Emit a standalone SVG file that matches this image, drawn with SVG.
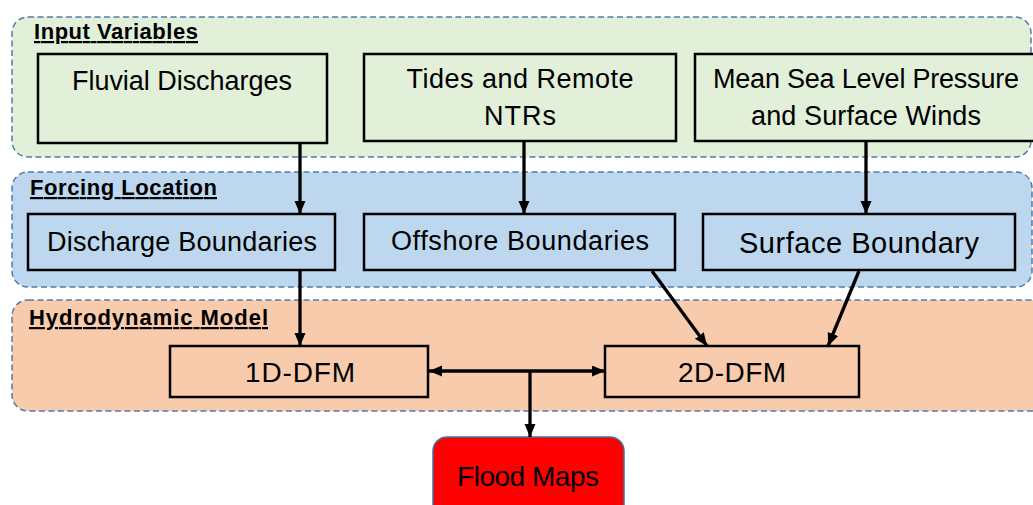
<svg xmlns="http://www.w3.org/2000/svg" width="1033" height="505" viewBox="0 0 1033 505">
<defs>
<marker id="ah" markerUnits="userSpaceOnUse" markerWidth="14" markerHeight="12" refX="13" refY="5.5" orient="auto-start-reverse" viewBox="0 0 14 12">
<path d="M0,0 L13,5.5 L0,11 z" fill="#000"/>
</marker>
<style>
.panel{stroke:#4F7CAC;stroke-width:1.5;stroke-dasharray:6 3.5}
.box{stroke:#000;stroke-width:2.5}
.t{font-family:"Liberation Sans",Arial,sans-serif;font-size:27px;fill:#000;text-anchor:middle}
.h{font-family:"Liberation Sans",Arial,sans-serif;font-size:22px;font-weight:bold;fill:#000;text-decoration:underline}
.c{stroke:#000;stroke-width:3.3;fill:none;marker-end:url(#ah)}
</style>
</defs>
<rect width="1033" height="505" fill="#fff"/>
<g id="panel-input">
<rect class="panel" x="12" y="17" width="1019" height="140" rx="16" fill="#E2EFD9"/>
<text class="h" x="34" y="39" textLength="164">Input Variables</text>
</g>
<g id="panel-forcing">
<rect class="panel" x="12" y="172" width="1020" height="115" rx="16" fill="#BDD7EE"/>
<text class="h" x="30" y="195" textLength="187">Forcing Location</text>
</g>
<g id="panel-hydro">
<rect class="panel" x="12" y="300" width="1040" height="111" rx="16" fill="#F8CBAD"/>
<text class="h" x="29" y="325" textLength="239">Hydrodynamic Model</text>
</g>
<g id="node-fluvial">
<rect class="box" x="38" y="54" width="289" height="89" fill="#E2EFD9"/>
<text class="t" x="182" y="90" textLength="220">Fluvial Discharges</text>
</g>
<g id="node-tides">
<rect class="box" x="364" y="54" width="312" height="87" fill="#E2EFD9"/>
<text class="t" x="520" y="88" textLength="227">Tides and Remote</text>
<text class="t" x="520" y="125" textLength="72">NTRs</text>
</g>
<g id="node-mslp">
<rect class="box" x="695" y="54" width="350" height="87" fill="#E2EFD9"/>
<text class="t" x="866" y="88" textLength="306">Mean Sea Level Pressure</text>
<text class="t" x="866" y="125" textLength="230">and Surface Winds</text>
</g>
<g id="node-discharge">
<rect class="box" x="28" y="214" width="307" height="56" fill="#BDD7EE"/>
<text class="t" x="182" y="251" textLength="270">Discharge Boundaries</text>
</g>
<g id="node-offshore">
<rect class="box" x="364" y="214" width="311" height="56" fill="#BDD7EE"/>
<text class="t" x="520" y="250" textLength="258">Offshore Boundaries</text>
</g>
<g id="node-surface">
<rect class="box" x="703" y="214" width="312" height="56" fill="#BDD7EE"/>
<text class="t" x="859" y="253" style="font-size:29px" textLength="240">Surface Boundary</text>
</g>
<g id="node-1d">
<rect class="box" x="170" y="346" width="258" height="51" fill="#F8CBAD"/>
<text class="t" x="300" y="382" style="font-size:28px" textLength="110">1D-DFM</text>
</g>
<g id="node-2d">
<rect class="box" x="605" y="346" width="254" height="51" fill="#F8CBAD"/>
<text class="t" x="732" y="382" style="font-size:28px" textLength="108">2D-DFM</text>
</g>
<g id="node-flood">
<rect x="433" y="437" width="191" height="85" rx="14" fill="#FF0000" stroke="#41719C" stroke-width="1.5"/>
<text class="t" x="528" y="486" style="font-size:28px" textLength="142">Flood Maps</text>
</g>
<g id="connectors">
<line class="c" x1="300" y1="144" x2="300" y2="214"/>
<line class="c" x1="524" y1="142" x2="524" y2="214"/>
<line class="c" x1="866" y1="142" x2="866" y2="214"/>
<line class="c" x1="300" y1="271" x2="300" y2="346"/>
<line class="c" x1="652" y1="271" x2="707" y2="346"/>
<line class="c" x1="859" y1="271" x2="828" y2="346"/>
<line class="c" x1="429" y1="371" x2="605" y2="371" style="marker-start:url(#ah)"/>
<line class="c" x1="530" y1="371" x2="530" y2="437"/>
</g>
</svg>
